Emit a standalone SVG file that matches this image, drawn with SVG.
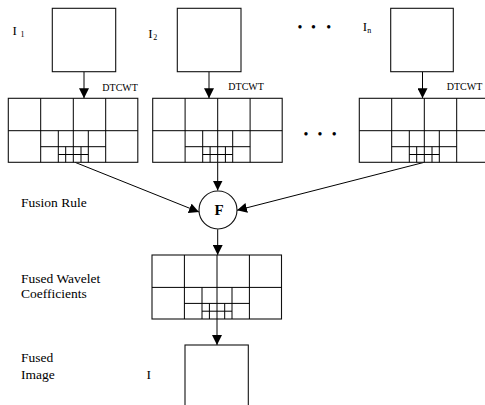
<svg xmlns="http://www.w3.org/2000/svg" xmlns:xlink="http://www.w3.org/1999/xlink" width="485" height="405" viewBox="0 0 485 405">
<style>
  .ln { stroke:#000; stroke-width:1; fill:none; }
  .box { stroke:#111; stroke-width:1.1; fill:#fff; }
  .lbl { font-family:"Liberation Serif","Times New Roman",serif; font-size:13.5px; fill:#000; }
  .sm { font-family:"Liberation Serif","Times New Roman",serif; font-size:10px; fill:#000; }
  .sym { font-family:"Liberation Serif","Times New Roman",serif; font-size:13px; fill:#000; }
  .sub { font-size:8px; }
  .dots { font-family:"Liberation Serif","Times New Roman",serif; font-size:14px; fill:#000; }
  .con { stroke:#000; stroke-width:1; fill:none; marker-end:url(#ah); }
</style>
<defs>
  <marker id="ah" markerUnits="userSpaceOnUse" markerWidth="10" markerHeight="10" refX="10" refY="5" orient="auto">
    <path d="M0,0 L10,5 L0,10 z" fill="#000"/>
  </marker>
  <g id="grid">
    <rect x="0" y="0" width="129.5" height="64" class="box"/>
    <path class="ln" d="M32.4,0 V64 M65,0 V64 M97.4,0 V64 M0,32.4 H129.5 M32.4,48.4 H97.4 M50,32.4 V64 M80,32.4 V64 M50,56.2 H80 M57.4,48.4 V64 M72.7,48.4 V64"/>
  </g>
</defs>

<g id="connectors">
  <line class="con" x1="84" y1="71.7" x2="84" y2="98.3"/>
  <line class="con" x1="209" y1="71.7" x2="209" y2="98.3"/>
  <line class="con" x1="422.5" y1="71.7" x2="422.5" y2="98.3"/>
  <line class="con" x1="75" y1="162.3" x2="199" y2="212"/>
  <line class="con" x1="217.7" y1="162.3" x2="217.7" y2="190.5"/>
  <line class="con" x1="424.3" y1="162.3" x2="237" y2="210.3"/>
  <line class="con" x1="217.7" y1="229.3" x2="217.7" y2="255"/>
  <line class="con" x1="217" y1="319" x2="217" y2="345"/>
</g>

<g id="image1"><rect class="box" x="52.3" y="8.3" width="63.4" height="63.4"/></g>
<g id="image2"><rect class="box" x="177.3" y="8.3" width="63.7" height="63.4"/></g>
<g id="imageN"><rect class="box" x="390.7" y="8.3" width="62.6" height="63.4"/></g>

<g id="coeff1"><use xlink:href="#grid" x="8.3" y="98.3"/></g>
<g id="coeff2"><use xlink:href="#grid" x="152.7" y="98.3"/></g>
<g id="coeffN"><use xlink:href="#grid" x="359.3" y="98.3"/></g>

<g id="fusion">
  <circle cx="218" cy="210" r="19" class="box"/>
  <text x="219" y="215" text-anchor="middle" style="font-family:'Liberation Serif','Times New Roman',serif;font-size:15px;font-weight:bold;">F</text>
</g>

<g id="fusedCoeff"><use xlink:href="#grid" x="152" y="255"/></g>

<g id="fusedImage"><rect class="box" x="185" y="345" width="63.3" height="66"/></g>

<g id="labels">
  <text class="sym" x="12.5" y="35">I<tspan class="sub" x="20.5" y="37">1</tspan></text>
  <text class="sym" x="148.3" y="37.7">I<tspan class="sub" x="153.3" y="40">2</tspan></text>
  <text class="sym" x="362.7" y="30.7">I<tspan class="sub" x="367.3" y="33">n</tspan></text>
  <text class="sm" x="102.3" y="90.7">DTCWT</text>
  <text class="sm" x="228.3" y="89.5">DTCWT</text>
  <text class="sm" x="446.7" y="90">DTCWT</text>
  <text class="dots" x="297.5 311 326.3" y="32">•••</text>
  <text class="dots" x="303.5 317.5 331.8" y="139">•••</text>
  <text class="lbl" x="21" y="206.7">Fusion Rule</text>
  <text class="lbl" x="21" y="282.5">Fused Wavelet</text>
  <text class="lbl" x="21" y="298.3">Coefficients</text>
  <text class="lbl" x="21" y="362">Fused</text>
  <text class="lbl" x="21" y="379">Image</text>
  <text class="lbl" x="146.5" y="379.3">I</text>
</g>
</svg>
